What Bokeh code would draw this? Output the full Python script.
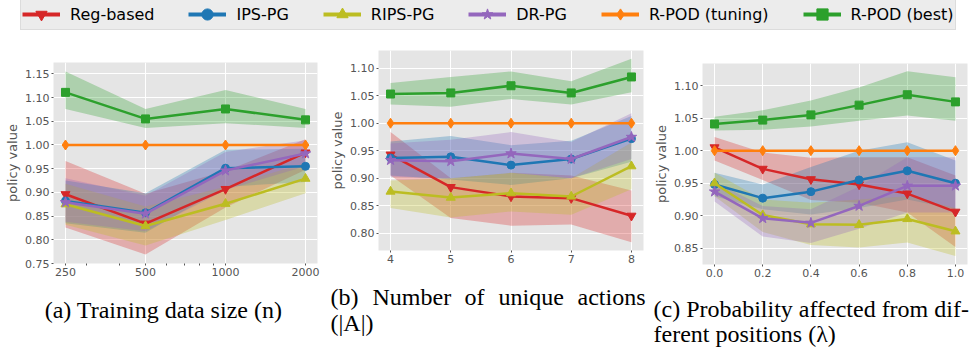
from bokeh.plotting import figure
from bokeh.models import (Range1d, FixedTicker, BasicTickFormatter, NumeralTickFormatter,
                          Label, Legend, LegendItem, Spacer)
from bokeh.layouts import column, row
from bokeh.embed import file_html
from bokeh.resources import INLINE

# ---------------- data ----------------
methods = ["Reg-based", "IPS-PG", "RIPS-PG", "DR-PG", "R-POD (tuning)", "R-POD (best)"]
colors = ["#d62728", "#1f77b4", "#bcbd22", "#9467bd", "#ff7f0e", "#2ca02c"]
markers = ["inverted_triangle", "circle", "triangle", "star", "diamond", "square"]
msizes = [9, 8, 9, 11, 10, 8]

# (a) training data size
a_x = [250, 500, 1000, 2000]
a_reg = [0.896, 0.834, 0.907, 0.984]
a_reg_lo = [0.826, 0.769, 0.868, 0.948]
a_reg_hi = [0.966, 0.897, 0.945, 1.012]
a_ips = [0.882, 0.857, 0.951, 0.955]
a_ips_lo = [0.835, 0.815, 0.912, 0.922]
a_ips_hi = [0.925, 0.898, 0.990, 0.992]
a_rips = [0.875, 0.829, 0.876, 0.929]
a_rips_lo = [0.832, 0.788, 0.842, 0.898]
a_rips_hi = [0.918, 0.870, 0.912, 0.962]
a_dr = [0.879, 0.855, 0.946, 0.982]
a_dr_lo = [0.838, 0.818, 0.905, 0.955]
a_dr_hi = [0.930, 0.893, 0.985, 1.010]
a_tun = [1.000, 1.000, 1.000, 1.000]
a_best = [1.111, 1.055, 1.076, 1.053]
a_best_lo = [1.076, 1.036, 1.046, 1.036]
a_best_hi = [1.155, 1.076, 1.116, 1.076]
a_yticks = [0.75, 0.80, 0.85, 0.90, 0.95, 1.00, 1.05, 1.10, 1.15]
a_xminor = [300, 400, 600, 700, 800, 900]

# (b) number of unique actions
b_x = [4, 5, 6, 7, 8]
b_reg = [0.943, 0.884, 0.867, 0.864, 0.832]
b_reg_lo = [0.905, 0.828, 0.814, 0.816, 0.784]
b_reg_hi = [0.984, 0.900, 0.910, 0.905, 0.878]
b_ips = [0.937, 0.939, 0.924, 0.935, 0.972]
b_ips_lo = [0.905, 0.898, 0.888, 0.900, 0.930]
b_ips_hi = [0.967, 0.977, 0.960, 0.968, 1.013]
b_rips = [0.876, 0.865, 0.873, 0.867, 0.922]
b_rips_lo = [0.846, 0.829, 0.840, 0.834, 0.880]
b_rips_hi = [0.896, 0.900, 0.910, 0.900, 0.965]
b_dr = [0.933, 0.931, 0.945, 0.935, 0.975]
b_dr_lo = [0.903, 0.900, 0.910, 0.900, 0.935]
b_dr_hi = [0.963, 0.970, 0.984, 0.966, 1.018]
b_tun = [1.000, 1.000, 1.000, 1.000, 1.000]
b_best = [1.053, 1.055, 1.068, 1.055, 1.084]
b_best_lo = [1.034, 1.030, 1.044, 1.034, 1.056]
b_best_hi = [1.073, 1.084, 1.094, 1.076, 1.117]
b_yticks = [0.80, 0.85, 0.90, 0.95, 1.00, 1.05, 1.10]

# (c) probability affected from different positions
c_x = [0.0, 0.2, 0.4, 0.6, 0.8, 1.0]
c_reg = [1.005, 0.972, 0.956, 0.948, 0.934, 0.906]
c_reg_lo = [0.985, 0.955, 0.924, 0.920, 0.905, 0.852]
c_reg_hi = [1.021, 0.997, 0.989, 0.990, 0.990, 0.962]
c_ips = [0.948, 0.927, 0.937, 0.955, 0.969, 0.950]
c_ips_lo = [0.930, 0.910, 0.902, 0.912, 0.925, 0.910]
c_ips_hi = [0.966, 0.948, 0.975, 1.000, 1.013, 0.985]
c_rips = [0.950, 0.901, 0.887, 0.886, 0.895, 0.876]
c_rips_lo = [0.930, 0.875, 0.855, 0.851, 0.859, 0.838]
c_rips_hi = [0.966, 0.925, 0.920, 0.925, 0.930, 0.912]
c_dr = [0.937, 0.896, 0.889, 0.915, 0.946, 0.946]
c_dr_lo = [0.922, 0.868, 0.858, 0.880, 0.905, 0.905]
c_dr_hi = [0.952, 0.915, 0.910, 0.945, 0.990, 0.990]
c_tun = [1.000, 1.000, 1.000, 1.000, 1.000, 1.000]
c_best = [1.041, 1.047, 1.055, 1.070, 1.086, 1.075]
c_best_lo = [1.031, 1.032, 1.037, 1.046, 1.054, 1.046]
c_best_hi = [1.052, 1.062, 1.077, 1.097, 1.122, 1.113]
c_yticks = [0.85, 0.90, 0.95, 1.00, 1.05, 1.10]

TICK_COLOR = "#555555"
BG = "#e5e5e5"
SERIF = "Liberation Serif"
CAP_SIZE = "24px"


def make_panel(xs, means, bands, x_range, y_range, x_ticks, y_ticks, x_fmt,
               width, height, left, right, x_log=False, x_minor=None):
    p = figure(width=width, height=height, x_range=x_range, y_range=y_range,
               x_axis_type="log" if x_log else "linear",
               output_backend="svg", toolbar_location=None,
               min_border_left=left, min_border_right=right,
               min_border_top=5, min_border_bottom=17)
    p.background_fill_color = BG
    p.border_fill_color = "white"
    p.outline_line_color = None
    p.grid.grid_line_color = "white"
    p.grid.grid_line_width = 1

    # bands underneath all lines
    for i, band in enumerate(bands):
        if band is None:
            continue
        lo, hi = band
        p.varea(x=xs, y1=lo, y2=hi, fill_color=colors[i], fill_alpha=0.3)
    for i, m in enumerate(means):
        p.line(xs, m, line_color=colors[i], line_width=2.5)
        p.scatter(xs, m, marker=markers[i], size=msizes[i],
                  fill_color=colors[i], line_color=colors[i])

    p.xaxis.ticker = FixedTicker(ticks=x_ticks, minor_ticks=x_minor or [])
    p.yaxis.ticker = FixedTicker(ticks=y_ticks)
    p.xaxis.formatter = x_fmt
    p.yaxis.formatter = NumeralTickFormatter(format="0.00")

    p.axis.axis_line_color = None
    p.axis.major_tick_line_color = TICK_COLOR
    p.axis.major_tick_out = 2
    p.axis.major_tick_in = 0
    p.axis.minor_tick_line_color = TICK_COLOR
    p.axis.minor_tick_out = 2
    p.axis.minor_tick_in = 0
    p.axis.major_label_standoff = 2
    p.axis.major_label_text_font = "DejaVu Sans"
    p.axis.major_label_text_font_size = "11px"
    p.axis.major_label_text_color = TICK_COLOR
    p.yaxis.axis_label = "policy value"
    p.yaxis.axis_label_text_font = "DejaVu Sans"
    p.yaxis.axis_label_text_font_size = "13px"
    p.yaxis.axis_label_text_font_style = "normal"
    p.yaxis.axis_label_text_color = TICK_COLOR
    p.yaxis.axis_label_standoff = 2
    return p


def caption_fig(width, height, lines):
    cf = figure(width=width, height=height, x_range=Range1d(0, width),
                y_range=Range1d(height, 0), x_axis_type=None, y_axis_type=None,
                output_backend="svg", toolbar_location=None, min_border=0)
    cf.outline_line_color = None
    cf.grid.visible = False
    for text, x, y, align in lines:
        cf.add_layout(Label(x=x, y=y, text=text, text_font=SERIF,
                            text_font_size=CAP_SIZE, text_baseline="alphabetic",
                            text_align=align, text_color="black"))
    # wrapped in its own row so its frame is not aligned with the panel above
    return row(cf, spacing=0)


# ---------------- panel (a) ----------------
pa = make_panel(
    a_x,
    [a_reg, a_ips, a_rips, a_dr, a_tun, a_best],
    [(a_reg_lo, a_reg_hi), (a_ips_lo, a_ips_hi), (a_rips_lo, a_rips_hi),
     (a_dr_lo, a_dr_hi), None, (a_best_lo, a_best_hi)],
    Range1d(a_x[0] / 2 ** 0.15, a_x[-1] * 2 ** 0.15), Range1d(0.75, 1.174),
    a_x, a_yticks, BasicTickFormatter(), 325, 223, 53, 8, x_log=True,
    x_minor=a_xminor)
cap_a = caption_fig(325, 68, [("(a) Training data size (n)", 163, 29, "center")])
col_a = column(Spacer(width=325, height=27), pa, cap_a, spacing=0)

# ---------------- panel (b) ----------------
pb = make_panel(
    b_x,
    [b_reg, b_ips, b_rips, b_dr, b_tun, b_best],
    [(b_reg_lo, b_reg_hi), (b_ips_lo, b_ips_hi), (b_rips_lo, b_rips_hi),
     (b_dr_lo, b_dr_hi), None, (b_best_lo, b_best_hi)],
    Range1d(3.8, 8.2), Range1d(0.769, 1.132),
    b_x, b_yticks, BasicTickFormatter(), 325, 222, 53, 7)
cap_b = caption_fig(325, 81, [("(b)", 5, 29, "left"), ("Number", 47, 29, "left"),
                              ("of", 139, 29, "left"), ("unique", 173, 29, "left"),
                              ("actions", 320, 29, "right"),
                              ("(|A|)", 5, 55, "left")])
col_b = column(Spacer(width=325, height=15), pb, cap_b, spacing=0)

# ---------------- panel (c) ----------------
pc = make_panel(
    c_x,
    [c_reg, c_ips, c_rips, c_dr, c_tun, c_best],
    [(c_reg_lo, c_reg_hi), (c_ips_lo, c_ips_hi), (c_rips_lo, c_rips_hi),
     (c_dr_lo, c_dr_hi), None, (c_best_lo, c_best_hi)],
    Range1d(-0.05, 1.05), Range1d(0.825, 1.134),
    c_x, c_yticks, NumeralTickFormatter(format="0.0"), 326, 223, 52, 9)
cap_c = caption_fig(326, 67, [("(c) Probability affected from dif-", 3, 27, "left"),
                              ("ferent positions (λ)", 3, 52, "left")])
col_c = column(Spacer(width=326, height=28), pc, cap_c, spacing=0)

# ---------------- legend strip ----------------
lf = figure(width=976, height=30, x_range=Range1d(0, 1), y_range=Range1d(0, 1),
            x_axis_type=None, y_axis_type=None, output_backend="svg",
            toolbar_location=None, min_border=0)
lf.outline_line_color = None
lf.grid.visible = False
items = []
for name, col, mk in zip(methods, colors, markers):
    # legend-only renderers; their points lie outside the strip's visible range
    rl = lf.line(x=[5, 6], y=[5, 5], line_color=col, line_width=4)
    rs = lf.scatter(x=[5], y=[5], marker=mk, fill_color=col, line_color=col)
    items.append(LegendItem(label=name, renderers=[rl, rs]))
legend = Legend(items=items, orientation="horizontal", location=(20, 0),
                glyph_width=38, glyph_height=28, label_height=28, padding=1,
                spacing=34, label_standoff=10, margin=0,
                label_text_font="DejaVu Sans", label_text_font_size="16px",
                label_text_color="black",
                background_fill_color=BG, background_fill_alpha=0.75,
                border_line_color="#cccccc", border_line_width=1)
lf.add_layout(legend)

layout = column(lf, row(col_a, col_b, col_c, spacing=0), spacing=0)
open("out.html", "w").write(file_html(layout, INLINE))
